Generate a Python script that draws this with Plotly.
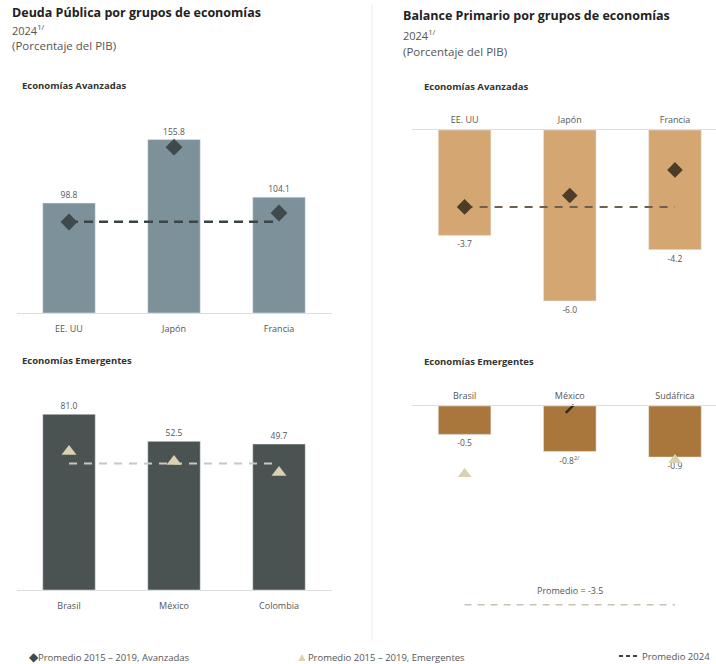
import plotly.graph_objects as go

W, H = 716, 664

# ---------------- data ----------------
adv_debt_cats = ["EE. UU", "Japón", "Francia"]
adv_debt = [98.8, 155.8, 104.1]
adv_debt_avg1519 = [81.8, 149.0, 89.8]
adv_debt_avg2024 = 82.0

emg_debt_cats = ["Brasil", "México", "Colombia"]
emg_debt = [81.0, 52.5, 49.7]
emg_debt_avg1519 = [41.7, 31.2, 19.6]
emg_debt_avg2024 = 29.1
emg_debt_floor = -104  # the reference uses a truncated value axis

adv_bal_cats = ["EE. UU", "Japón", "Francia"]
adv_bal = [-3.7, -6.0, -4.2]
adv_bal_avg1519 = [-2.7, -2.3, -1.4]
adv_bal_avg2024 = -2.7

emg_bal_cats = ["Brasil", "México", "Sudáfrica"]
emg_bal = [-0.5, -0.8, -0.9]
emg_bal_notes = ["", "<sup>2/</sup>", ""]
emg_bal_avg1519 = [-1.2, None, -0.95]
emg_bal_mexico_mark = [None, -0.05, None]
emg_bal_avg2024 = -3.5

# ---------------- styles ----------------
FONT = "Open Sans"
C_ADV_DEBT = "#7d919b"
C_EMG_DEBT = "#4b5252"
C_ADV_BAL = "#d4a672"
C_EMG_BAL = "#a9773b"
C_DIAM_L = "#3e4a4b"
C_DIAM_R = "#4c3c2a"
C_TRI = "#d9d1b1"
C_TXT = "#555555"


def px(x):
    return x / W


def py(y):
    return 1 - y / H


fig = go.Figure()

lbl_font = dict(family=FONT, size=8.5, color=C_TXT)

# ---- left top: deuda avanzadas ----
fig.add_trace(go.Bar(x=adv_debt_cats, y=adv_debt, width=0.5, marker_color=C_ADV_DEBT,
                     text=[f"{v:.1f}" for v in adv_debt], textposition="outside",
                     textfont=lbl_font, cliponaxis=False, xaxis="x", yaxis="y"))
fig.add_trace(go.Scatter(x=adv_debt_cats, y=[adv_debt_avg2024] * 3, mode="lines",
                         line=dict(color="#3b4545", width=2.5, dash="9px,6px"),
                         xaxis="x", yaxis="y"))
fig.add_trace(go.Scatter(x=adv_debt_cats, y=adv_debt_avg1519, mode="markers",
                         marker=dict(symbol="diamond", size=13, color=C_DIAM_L),
                         xaxis="x", yaxis="y"))

# ---- left bottom: deuda emergentes ----
fig.add_trace(go.Bar(x=emg_debt_cats, y=[v - emg_debt_floor for v in emg_debt],
                     base=emg_debt_floor, width=0.5, marker_color=C_EMG_DEBT,
                     text=[f"{v:.1f}" for v in emg_debt], textposition="outside",
                     textfont=lbl_font, cliponaxis=False, xaxis="x2", yaxis="y2"))
fig.add_trace(go.Scatter(x=emg_debt_cats, y=[emg_debt_avg2024] * 3, mode="lines",
                         line=dict(color="#c9c8bc", width=2, dash="8px,7px"),
                         xaxis="x2", yaxis="y2"))
fig.add_trace(go.Scatter(x=emg_debt_cats, y=emg_debt_avg1519, mode="markers",
                         marker=dict(symbol="triangle-up", size=13, color=C_TRI),
                         xaxis="x2", yaxis="y2"))

# ---- right top: balance avanzadas ----
fig.add_trace(go.Bar(x=adv_bal_cats, y=adv_bal, width=0.5, marker_color=C_ADV_BAL,
                     text=[f"{v:.1f}" for v in adv_bal], textposition="outside",
                     textfont=lbl_font, cliponaxis=False, xaxis="x3", yaxis="y3"))
fig.add_trace(go.Scatter(x=adv_bal_cats, y=[adv_bal_avg2024] * 3, mode="lines",
                         line=dict(color="#6d6050", width=2, dash="8px,7px"),
                         xaxis="x3", yaxis="y3"))
fig.add_trace(go.Scatter(x=adv_bal_cats, y=adv_bal_avg1519, mode="markers",
                         marker=dict(symbol="diamond", size=12, color=C_DIAM_R),
                         xaxis="x3", yaxis="y3"))

# ---- right bottom: balance emergentes ----
fig.add_trace(go.Bar(x=emg_bal_cats, y=emg_bal, width=0.5, marker_color=C_EMG_BAL,
                     text=[f"{v:.1f}{n}" for v, n in zip(emg_bal, emg_bal_notes)],
                     textposition="outside", textfont=lbl_font, cliponaxis=False,
                     xaxis="x4", yaxis="y4"))
fig.add_trace(go.Scatter(x=emg_bal_cats, y=emg_bal_avg1519, mode="markers",
                         marker=dict(symbol="triangle-up", size=12, color=C_TRI),
                         cliponaxis=False, xaxis="x4", yaxis="y4"))
fig.add_trace(go.Scatter(x=emg_bal_cats, y=emg_bal_mexico_mark, mode="markers",
                         marker=dict(symbol="line-ne", size=8, color="#2f2a25",
                                     line=dict(width=2.5, color="#2f2a25")),
                         cliponaxis=False, xaxis="x4", yaxis="y4"))
fig.add_trace(go.Scatter(x=emg_bal_cats, y=[emg_bal_avg2024] * 3, mode="lines",
                         line=dict(color="#c8c2b4", width=1.5, dash="7px,6px"),
                         xaxis="x4", yaxis="y4"))

# ---------------- axes ----------------
tick_font = dict(family=FONT, size=9, color=C_TXT)
xl = [px(16.5), px(331.5)]
xr = [px(412), 1.0]
common_x = dict(type="category", showgrid=False, zeroline=False, showline=True,
                linecolor="#dedede", linewidth=1, ticks="", tickfont=tick_font,
                fixedrange=True)
common_y = dict(showgrid=False, zeroline=False, showline=False, showticklabels=False,
                ticks="", fixedrange=True)

fig.update_layout(
    xaxis=dict(domain=xl, anchor="y", range=[-0.5, 2.5], ticklabelstandoff=7, **common_x),
    yaxis=dict(domain=[py(313), py(123.8)], anchor="x", range=[0, 170], **common_y),
    xaxis2=dict(domain=xl, anchor="y2", range=[-0.5, 2.5], ticklabelstandoff=7, **common_x),
    yaxis2=dict(domain=[py(590), py(401)], anchor="x2", range=[emg_debt_floor, 95], **common_y),
    xaxis3=dict(domain=xr, anchor="y3", side="top", range=[-0.5, 2.39], ticklabelstandoff=2, **common_x),
    yaxis3=dict(domain=[py(318), py(130)], anchor="x3", range=[-6.6, 0], **common_y),
    xaxis4=dict(domain=xr, anchor="y4", side="top", range=[-0.5, 2.39], ticklabelstandoff=2, **common_x),
    yaxis4=dict(domain=[py(616), py(406)], anchor="x4", range=[-3.7, 0], **common_y),
)

# ---------------- texts ----------------
ann = []


def txt(x, y, s, size=11, bold=False, color="#333333", xanchor="left"):
    ann.append(dict(x=px(x), y=py(y), xref="paper", yref="paper", text=f"<b>{s}</b>" if bold else s,
                    showarrow=False, xanchor=xanchor, yanchor="middle",
                    font=dict(family=FONT, size=size, color=color)))


txt(10, 12, "Deuda Pública por grupos de economías", 12.5, True, "#222222")
txt(10, 30, "2024<sup>1/</sup>", 11, False, "#555555")
txt(10, 46, "(Porcentaje del PIB)", 11.5, False, "#555555")
txt(20, 85, "Economías Avanzadas", 9.5, True, "#333333")
txt(20, 360, "Economías Emergentes", 9.5, True, "#333333")

txt(401, 16, "Balance Primario por grupos de economías", 12.5, True, "#222222")
txt(401, 35, "2024<sup>1/</sup>", 11, False, "#555555")
txt(401, 52, "(Porcentaje del PIB)", 11.5, False, "#555555")
txt(422, 86, "Economías Avanzadas", 9.5, True, "#333333")
txt(422, 361, "Economías Emergentes", 9.5, True, "#333333")

ann.append(dict(x="México", y=emg_bal_avg2024, xref="x4", yref="y4",
                text=f"Promedio = {emg_bal_avg2024:.1f}", showarrow=False,
                yanchor="bottom", yshift=6,
                font=dict(family=FONT, size=9, color=C_TXT)))

# legend (bottom)
leg_font = 9.5
ann.append(dict(x=px(27), y=py(656), xref="paper", yref="paper", showarrow=False,
                xanchor="left", yanchor="middle",
                text=f"<span style='color:{C_DIAM_L};font-size:12px'>◆</span>Promedio 2015 – 2019, Avanzadas",
                font=dict(family=FONT, size=leg_font, color=C_TXT)))
ann.append(dict(x=px(294), y=py(656), xref="paper", yref="paper", showarrow=False,
                xanchor="left", yanchor="middle",
                text=f"<span style='color:{C_TRI};font-size:12px'>▲</span>Promedio 2015 – 2019, Emergentes",
                font=dict(family=FONT, size=leg_font, color=C_TXT)))
ann.append(dict(x=px(640), y=py(656), xref="paper", yref="paper", showarrow=False,
                xanchor="left", yanchor="middle", text="Promedio 2024",
                font=dict(family=FONT, size=leg_font, color=C_TXT)))

shapes = [
    dict(type="line", xref="paper", yref="paper", x0=px(619), x1=px(637), y0=py(656), y1=py(656),
         line=dict(color="#3b4545", width=2, dash="4px,3px")),
    dict(type="line", xref="paper", yref="paper", x0=px(372), x1=px(372), y0=py(4), y1=py(640),
         line=dict(color="#ececec", width=1)),
]

fig.update_layout(
    width=W, height=H, margin=dict(l=0, r=0, t=0, b=0),
    paper_bgcolor="white", plot_bgcolor="white",
    showlegend=False, annotations=ann, shapes=shapes,
    font=dict(family=FONT),
)

fig.write_html("out.html", config={"displayModeBar": False},
               post_script="document.body.style.margin='0';document.body.style.overflow='hidden';")
